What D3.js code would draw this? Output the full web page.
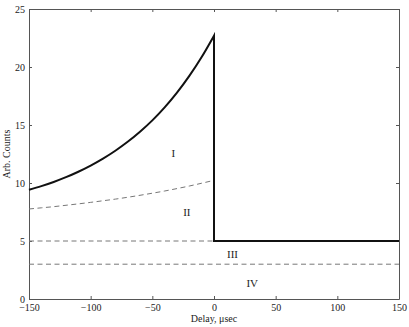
<!DOCTYPE html>
<html>
<head>
<meta charset="utf-8">
<script src="https://cdn.jsdelivr.net/npm/d3@7"></script>
<style>
  body { margin: 0; background: #fff; }
  text { font-family: "Liberation Serif", "DejaVu Serif", serif; fill: #222; }
</style>
</head>
<body>
<svg id="chart"></svg>
<script>
// delay grid (usec) for the curves left of zero
var delays = [-150, -140, -130, -120, -110, -100, -90, -80, -70, -60, -50, -40, -30, -20, -10, 0];
// total counts (thick line) before zero
var totalCounts = [9.41, 9.73, 10.09, 10.50, 10.97, 11.50, 12.10, 12.78, 13.55, 14.42, 15.40, 16.52, 17.79, 19.23, 20.86, 22.70];
// dashed curve between region I and II
var dashCounts = [7.76, 7.86, 7.96, 8.08, 8.20, 8.33, 8.47, 8.61, 8.77, 8.94, 9.12, 9.31, 9.52, 9.74, 9.98, 10.23];
// flat level after zero
var afterX = [0, 150];
var afterLevel = 5;
// horizontal dashed levels
var level5 = {x: [-150, 0], y: 5};
var level3 = {x: [-150, 150], y: 3};

var xTicks = [-150, -100, -50, 0, 50, 100, 150];
var yTicks = [0, 5, 10, 15, 20, 25];

var regionNames = ["I", "II", "III", "IV"];
var regionX = [-33, -22, 15, 31];
var regionY = [12.6, 7.5, 3.9, 1.4];

var W = 409, H = 327;
var m = {left: 29, right: 10, top: 9, bottom: 28};

var svg = d3.select("#chart").attr("width", W).attr("height", H);

var x = d3.scaleLinear().domain([-150, 150]).range([m.left, W - m.right]);
var y = d3.scaleLinear().domain([0, 25]).range([H - m.bottom, m.top]);

var fmt = function(d){ return d < 0 ? "\u2212" + Math.abs(d) : "" + d; };

// axes, matlab style: ticks inward on all four sides
var axColor = "#555";
function styleAxis(g){
    g.select(".domain").attr("stroke", axColor).attr("stroke-width", 1);
    g.selectAll(".tick line").attr("stroke", axColor);
    g.selectAll(".tick text").style("font-size", "10px").attr("fill", "#222")
        .attr("font-family", "Liberation Serif, serif");
}

svg.append("g").attr("transform", "translate(0," + y(0) + ")")
    .call(d3.axisBottom(x).tickValues(xTicks).tickFormat(fmt).tickSizeInner(-3).tickSizeOuter(0).tickPadding(5))
    .call(styleAxis);
svg.append("g").attr("transform", "translate(0," + y(25) + ")")
    .call(d3.axisTop(x).tickValues(xTicks).tickFormat("").tickSizeInner(-3).tickSizeOuter(0))
    .call(styleAxis);
svg.append("g").attr("transform", "translate(" + x(-150) + ",0)")
    .call(d3.axisLeft(y).tickValues(yTicks).tickFormat(fmt).tickSizeInner(-3).tickSizeOuter(0).tickPadding(4))
    .call(styleAxis);
svg.append("g").attr("transform", "translate(" + x(150) + ",0)")
    .call(d3.axisRight(y).tickValues(yTicks).tickFormat("").tickSizeInner(-3).tickSizeOuter(0))
    .call(styleAxis);

var line = d3.line().x(function(d){ return x(d[0]); }).y(function(d){ return y(d[1]); });

var dashStyle = function(p){
    p.attr("fill", "none").attr("stroke", "#777").attr("stroke-width", 1)
     .attr("stroke-dasharray", "5,3.5");
};

// dashed curve
svg.append("path")
    .datum(delays.map(function(d, i){ return [d, dashCounts[i]]; }))
    .attr("d", line.curve(d3.curveMonotoneX)).call(dashStyle);
line.curve(d3.curveLinear);

svg.append("path")
    .datum(level5.x.map(function(d){ return [d, level5.y]; }))
    .attr("d", line).call(dashStyle);
svg.append("path")
    .datum(level3.x.map(function(d){ return [d, level3.y]; }))
    .attr("d", line).call(dashStyle);

// thick total line: rise, drop at zero, then flat
var total = delays.map(function(d, i){ return [d, totalCounts[i]]; });
var rise = d3.line().x(function(d){ return x(d[0]); }).y(function(d){ return y(d[1]); }).curve(d3.curveMonotoneX)(total);
var tail = afterX.map(function(d){ return [d, afterLevel]; });
svg.append("path")
    .attr("d", rise + "L" + tail.map(function(d){ return x(d[0]) + "," + y(d[1]); }).join("L"))
    .attr("fill", "none").attr("stroke", "#111").attr("stroke-width", 2)
    .attr("stroke-linejoin", "miter");

// region labels
svg.selectAll("text.region").data(regionNames).enter().append("text")
    .attr("class", "region")
    .attr("x", function(d, i){ return x(regionX[i]); })
    .attr("y", function(d, i){ return y(regionY[i]); })
    .attr("dy", "0.35em")
    .attr("text-anchor", "middle")
    .style("font-size", "11px")
    .text(function(d){ return d; });

// axis titles
svg.append("text")
    .attr("x", x(0)).attr("y", 322)
    .attr("text-anchor", "middle").style("font-size", "10px")
    .text("Delay, \u03bcsec");
svg.append("text")
    .attr("transform", "translate(10," + y(12.5) + ") rotate(-90)")
    .attr("text-anchor", "middle").style("font-size", "10px")
    .text("Arb. Counts");
</script>
</body>
</html>
